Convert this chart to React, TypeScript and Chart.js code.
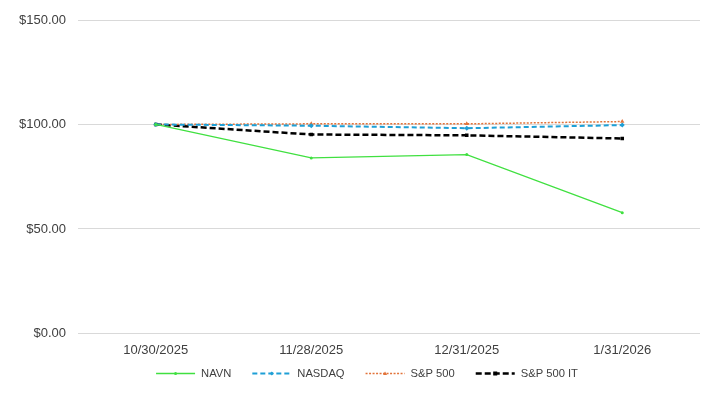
import React, { useEffect, useRef } from "react";
import { Chart, registerables } from "chart.js";
Chart.register(...registerables);

const categories = ["10/30/2025", "11/28/2025", "12/31/2025", "1/31/2026"];
const navn = [100, 84.0, 85.6, 57.8];
const nasdaq = [100, 99.4, 98.2, 99.7];
const sp500 = [100, 100.3, 100.3, 101.4];
const sp500it = [100, 95.2, 94.8, 93.3];
const yTicks = [0, 50, 100, 150];

const FONT = "'Liberation Sans', Arial, sans-serif";

function drawMarker(ctx: CanvasRenderingContext2D, style: string, cx: number, y: number, r: number) {
  ctx.beginPath();
  if (style === "rect") {
    ctx.fillRect(cx - r, y - r, 2 * r, 2 * r);
    return;
  } else if (style === "triangle") {
    ctx.moveTo(cx, y - r);
    ctx.lineTo(cx + r, y + r * 0.8);
    ctx.lineTo(cx - r, y + r * 0.8);
  } else if (style === "rectRot") {
    ctx.moveTo(cx, y - r);
    ctx.lineTo(cx + r, y);
    ctx.lineTo(cx, y + r);
    ctx.lineTo(cx - r, y);
  } else {
    ctx.arc(cx, y, r, 0, Math.PI * 2);
  }
  ctx.closePath();
  ctx.fill();
}

const customLegend = {
  id: "customLegend",
  afterDraw(chart: any) {
    const ctx: CanvasRenderingContext2D = chart.ctx;
    const dsets = chart.data.datasets;
    const boxW = 39;
    const gapText = 6;
    const gapItem = 21;
    const centerX = 367;
    const y = 373.5;
    ctx.save();
    ctx.font = `11.2px ${FONT}`;
    const widths = dsets.map((ds: any) => boxW + gapText + ctx.measureText(ds.label).width);
    const total = widths.reduce((a: number, b: number) => a + b, 0) + gapItem * (dsets.length - 1);
    let x = centerX - total / 2;
    dsets.forEach((ds: any, i: number) => {
      ctx.strokeStyle = ds.borderColor;
      ctx.lineWidth = ds.borderWidth;
      ctx.setLineDash(ds.borderDash || []);
      ctx.beginPath();
      ctx.moveTo(x, y);
      ctx.lineTo(x + boxW, y);
      ctx.stroke();
      ctx.setLineDash([]);
      ctx.fillStyle = ds.backgroundColor;
      drawMarker(ctx, ds.pointStyle, x + boxW / 2, y, Math.min(ds.pointRadius, 2));
      ctx.fillStyle = "#404040";
      ctx.textBaseline = "middle";
      ctx.textAlign = "left";
      ctx.fillText(ds.label, x + boxW + gapText, y);
      x += widths[i] + gapItem;
    });
    ctx.restore();
  },
};

export default function App() {
  const ref = useRef<HTMLCanvasElement>(null);
  useEffect(() => {
    const font = { family: FONT, size: 13 };
    const chart = new Chart(ref.current!, {
      type: "line",
      data: {
        labels: categories,
        datasets: [
          {
            label: "NAVN",
            data: navn,
            borderColor: "#40e040",
            backgroundColor: "#40e040",
            borderWidth: 1.3,
            pointRadius: 1.5,
            pointBorderWidth: 0,
            pointStyle: "circle",
            tension: 0,
          },
          {
            label: "NASDAQ",
            data: nasdaq,
            borderColor: "#1e9fd6",
            backgroundColor: "#1e9fd6",
            borderWidth: 2,
            borderDash: [5, 3],
            pointRadius: 2.5,
            pointBorderWidth: 0,
            pointStyle: "rectRot",
          },
          {
            label: "S&P 500",
            data: sp500,
            borderColor: "#e2733a",
            backgroundColor: "#e2733a",
            borderWidth: 1.5,
            borderDash: [2, 1.5],
            pointRadius: 2.5,
            pointBorderWidth: 0,
            pointStyle: "triangle",
          },
          {
            label: "S&P 500 IT",
            data: sp500it,
            borderColor: "#000000",
            backgroundColor: "#000000",
            borderWidth: 2.5,
            borderDash: [6, 3],
            pointRadius: 2.5,
            pointBorderWidth: 0,
            pointStyle: "rect",
          },
        ],
      },
      options: {
        animation: false,
        responsive: false,
        maintainAspectRatio: false,
        layout: { padding: { top: 20, right: 12, left: 0, bottom: 35 } },
        plugins: {
          legend: { display: false },
          tooltip: { enabled: false },
        },
        scales: {
          x: {
            offset: true,
            grid: { display: false },
            border: { display: false },
            ticks: { color: "#404040", font, padding: 1 },
          },
          y: {
            min: 0,
            max: 150,
            afterBuildTicks: (s: any) => {
              s.ticks = yTicks.map((v) => ({ value: v }));
            },
            afterFit: (s: any) => {
              s.width = 78;
            },
            grid: { color: "#d9d9d9", drawTicks: false },
            border: { display: false },
            ticks: {
              color: "#404040",
              font,
              padding: 12,
              callback: (v: any) => "$" + Number(v).toFixed(2),
            },
          },
        },
      },
      plugins: [customLegend],
    });
    return () => chart.destroy();
  }, []);
  return (
    <div style={{ position: "fixed", left: 0, top: 0, width: 712, height: 394, background: "#fff" }}>
      <canvas ref={ref} width={712} height={394} />
    </div>
  );
}
